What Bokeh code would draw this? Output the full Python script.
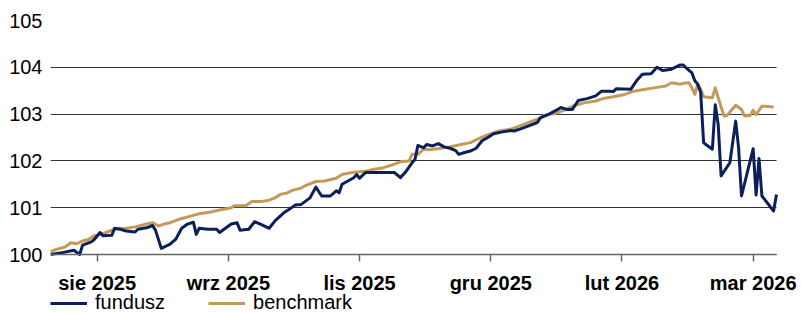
import pandas as pd
from bokeh.plotting import figure
from bokeh.models import Range1d, FixedTicker, Legend, LegendItem
from bokeh.embed import file_html
from bokeh.resources import INLINE

# ---- data ----
fund_dates = [
    "2025-07-24", "2025-07-28", "2025-08-01", "2025-08-03", "2025-08-04", "2025-08-07",
    "2025-08-08", "2025-08-10", "2025-08-11", "2025-08-14", "2025-08-15", "2025-08-17",
    "2025-08-19", "2025-08-22", "2025-08-23", "2025-08-26", "2025-08-28", "2025-08-29",
    "2025-08-31", "2025-09-03", "2025-09-05", "2025-09-07", "2025-09-09", "2025-09-11",
    "2025-09-12", "2025-09-13", "2025-09-16", "2025-09-19", "2025-09-20", "2025-09-22",
    "2025-09-24", "2025-09-26", "2025-09-27", "2025-09-30", "2025-10-02", "2025-10-04",
    "2025-10-07", "2025-10-09", "2025-10-12", "2025-10-14", "2025-10-16", "2025-10-18",
    "2025-10-21", "2025-10-23", "2025-10-25", "2025-10-28", "2025-10-30", "2025-10-31",
    "2025-11-01", "2025-11-05", "2025-11-06", "2025-11-07", "2025-11-09", "2025-11-15",
    "2025-11-19", "2025-11-21", "2025-11-23", "2025-11-25", "2025-11-26", "2025-11-27",
    "2025-11-29", "2025-11-30", "2025-12-02", "2025-12-04", "2025-12-06", "2025-12-08",
    "2025-12-10", "2025-12-11", "2025-12-13", "2025-12-15", "2025-12-17", "2025-12-19",
    "2025-12-21", "2025-12-23", "2025-12-26", "2025-12-29", "2025-12-30", "2026-01-01",
    "2026-01-04", "2026-01-07", "2026-01-08", "2026-01-11", "2026-01-14", "2026-01-15",
    "2026-01-17", "2026-01-19", "2026-01-21", "2026-01-24", "2026-01-27", "2026-01-29",
    "2026-02-01", "2026-02-02", "2026-02-03", "2026-02-08", "2026-02-10", "2026-02-12",
    "2026-02-15", "2026-02-17", "2026-02-19", "2026-02-22", "2026-02-25", "2026-02-26",
    "2026-02-27", "2026-03-01", "2026-03-02", "2026-03-03", "2026-03-04", "2026-03-05",
    "2026-03-06", "2026-03-08", "2026-03-09", "2026-03-10", "2026-03-11", "2026-03-14",
    "2026-03-16", "2026-03-17", "2026-03-18", "2026-03-22", "2026-03-23", "2026-03-24",
    "2026-03-25", "2026-03-29", "2026-03-30",
]
fund_values = [
    100.00, 100.04, 100.09, 100.00, 100.20, 100.27,
    100.32, 100.47, 100.40, 100.41, 100.56, 100.54,
    100.50, 100.48, 100.54, 100.57, 100.62, 100.52,
    100.13, 100.22, 100.33, 100.56, 100.65, 100.69,
    100.43, 100.56, 100.54, 100.54, 100.47, 100.56,
    100.65, 100.68, 100.52, 100.54, 100.70, 100.65,
    100.56, 100.72, 100.89, 100.97, 101.06, 101.07,
    101.21, 101.44, 101.25, 101.25, 101.36, 101.32,
    101.50, 101.64, 101.71, 101.63, 101.75, 101.75,
    101.75, 101.64, 101.78, 101.96, 102.03, 102.33,
    102.28, 102.35, 102.32, 102.37, 102.30, 102.27,
    102.22, 102.14, 102.18, 102.21, 102.27, 102.43,
    102.50, 102.58, 102.62, 102.65, 102.64, 102.68,
    102.75, 102.82, 102.92, 103.00, 103.10, 103.14,
    103.10, 103.10, 103.29, 103.33, 103.39, 103.49,
    103.49, 103.48, 103.54, 103.53, 103.71, 103.85,
    103.86, 104.00, 103.93, 103.96, 104.05, 104.05,
    103.99, 103.88, 103.71, 103.64, 103.46, 102.39,
    102.34, 102.25, 103.20, 102.78, 101.68, 101.96,
    102.85, 102.28, 101.25, 102.26, 101.27, 102.05,
    101.25, 100.93, 101.28,
]

bench_dates = [
    "2025-07-24", "2025-07-26", "2025-07-29", "2025-07-31", "2025-08-02", "2025-08-04",
    "2025-08-06", "2025-08-08", "2025-08-10", "2025-08-12", "2025-08-15", "2025-08-19",
    "2025-08-22", "2025-08-26", "2025-08-28", "2025-08-30", "2025-09-01", "2025-09-03",
    "2025-09-07", "2025-09-10", "2025-09-13", "2025-09-17", "2025-09-20", "2025-09-24",
    "2025-09-25", "2025-09-29", "2025-10-01", "2025-10-04", "2025-10-07", "2025-10-09",
    "2025-10-11", "2025-10-13", "2025-10-15", "2025-10-18", "2025-10-19", "2025-10-23",
    "2025-10-26", "2025-10-30", "2025-11-01", "2025-11-05", "2025-11-09", "2025-11-12",
    "2025-11-15", "2025-11-18", "2025-11-21", "2025-11-24", "2025-11-25", "2025-11-27",
    "2025-11-29", "2025-12-01", "2025-12-05", "2025-12-08", "2025-12-11", "2025-12-15",
    "2025-12-18", "2025-12-22", "2025-12-25", "2025-12-29", "2026-01-01", "2026-01-04",
    "2026-01-07", "2026-01-09", "2026-01-11", "2026-01-13", "2026-01-16", "2026-01-20",
    "2026-01-23", "2026-01-27", "2026-01-30", "2026-02-02", "2026-02-06", "2026-02-09",
    "2026-02-13", "2026-02-16", "2026-02-20", "2026-02-22", "2026-02-25", "2026-02-26",
    "2026-02-28", "2026-03-01", "2026-03-02", "2026-03-03", "2026-03-04", "2026-03-05",
    "2026-03-08", "2026-03-09", "2026-03-10", "2026-03-12", "2026-03-13", "2026-03-16",
    "2026-03-18", "2026-03-19", "2026-03-21", "2026-03-22", "2026-03-23", "2026-03-25",
    "2026-03-26", "2026-03-29",
]
bench_values = [
    100.06, 100.11, 100.16, 100.25, 100.23, 100.29,
    100.32, 100.40, 100.43, 100.47, 100.54, 100.56,
    100.59, 100.65, 100.68, 100.61, 100.65, 100.68,
    100.77, 100.82, 100.87, 100.91, 100.95, 101.00,
    101.04, 101.04, 101.13, 101.13, 101.16, 101.21,
    101.29, 101.31, 101.37, 101.42, 101.46, 101.56,
    101.57, 101.63, 101.71, 101.76, 101.78, 101.82,
    101.85, 101.91, 101.98, 102.00, 102.14, 102.14,
    102.25, 102.24, 102.27, 102.30, 102.34, 102.39,
    102.48, 102.58, 102.64, 102.68, 102.75, 102.82,
    102.89, 102.96, 103.00, 103.01, 103.08, 103.19,
    103.24, 103.28, 103.34, 103.37, 103.42, 103.49,
    103.53, 103.56, 103.60, 103.67, 103.64, 103.66,
    103.67, 103.56, 103.42, 103.64, 103.53, 103.37,
    103.35, 103.56, 103.35, 102.96, 102.97, 103.19,
    103.10, 102.96, 102.97, 103.08, 102.99, 103.17,
    103.17, 103.15,
]

series_names = ["fundusz", "benchmark"]
tick_dates = ["2025-08-09", "2025-09-23", "2025-11-07", "2025-12-22", "2026-02-05", "2026-03-22"]
tick_labels = ["sie 2025", "wrz 2025", "lis 2025", "gru 2025", "lut 2026", "mar 2026"]
y_ticks = [100, 101, 102, 103, 104, 105]
x_start, x_end = "2025-07-24", "2026-03-30"


def ms(d):
    return pd.Timestamp(d).value / 1e6


NAVY = "#0b1f5b"
GOLD = "#c49a5b"
FONT = "Liberation Sans"

# layout: the plot frame spans the whole canvas right of the value labels and below
# the top border; the chart area itself is LEFT..LEFT+AXIS_W px wide and
# TOP..TOP+AXIS_PX px tall, the x axis is pinned at y=100 and the legend sits in
# the strip underneath.
W, H = 801, 314
LEFT, TOP = 50, 20
AXIS_W, AXIS_PX = 726, 234
y_lo, y_hi = y_ticks[0], y_ticks[-1]
y_bottom = y_hi - (H - TOP) / AXIS_PX * (y_hi - y_lo)
x0, x1 = ms(x_start), ms(x_end)
x_right = x0 + (W - LEFT) / AXIS_W * (x1 - x0)

p = figure(
    width=W, height=H, x_axis_type="datetime",
    output_backend="svg", toolbar_location=None,
    x_range=Range1d(x0, x_right), y_range=Range1d(y_bottom, y_hi),
    min_border_left=LEFT, min_border_right=0, min_border_top=TOP, min_border_bottom=0,
)
p.outline_line_color = None
p.background_fill_color = "white"
p.border_fill_color = "white"

r_bench = p.line(pd.to_datetime(bench_dates), bench_values, line_color=GOLD,
                 line_width=3, line_join="round")
r_fund = p.line(pd.to_datetime(fund_dates), fund_values, line_color=NAVY,
                line_width=3, line_join="round")

# grid
p.xgrid.visible = False
p.ygrid.ticker = FixedTicker(ticks=y_ticks)
p.ygrid.cross_bounds = (x0, x1)
p.ygrid.grid_line_color = "#333333"
p.ygrid.grid_line_width = 1

# y axis
yax = p.yaxis[0]
yax.ticker = FixedTicker(ticks=y_ticks)
yax.axis_line_color = None
yax.major_tick_line_color = None
yax.minor_tick_line_color = None
yax.major_tick_out = 0
yax.major_tick_in = 0
yax.major_label_standoff = 8
yax.major_label_text_font = FONT
yax.major_label_text_font_size = "20px"
yax.major_label_text_color = "#000000"

# x axis, pinned at y = 100
xax = p.xaxis[0]
xax.fixed_location = y_lo
xax.bounds = (x0, x1)
tick_ms = [ms(d) for d in tick_dates]
xax.ticker = FixedTicker(ticks=tick_ms)
xax.major_label_overrides = {t: lab for t, lab in zip(tick_ms, tick_labels)}
xax.axis_line_color = "#666666"
xax.axis_line_width = 1.5
xax.major_tick_line_color = "#666666"
xax.major_tick_line_width = 1.5
xax.minor_tick_line_color = None
xax.major_tick_out = 7
xax.major_tick_in = 0
xax.major_label_standoff = 10
xax.major_label_text_font = FONT
xax.major_label_text_font_style = "bold"
xax.major_label_text_font_size = "20px"
xax.major_label_text_color = "#000000"

legend = Legend(
    items=[LegendItem(label=series_names[0], renderers=[r_fund]),
           LegendItem(label=series_names[1], renderers=[r_bench])],
    location=(0, 0), orientation="horizontal",
    glyph_width=37, glyph_height=20, label_height=20, label_standoff=8, spacing=43,
    padding=0, margin=0, border_line_color=None, background_fill_alpha=0,
    label_text_font=FONT, label_text_font_size="20px", label_text_color="#000000",
)
p.add_layout(legend)

open("out.html", "w").write(file_html(p, INLINE))
